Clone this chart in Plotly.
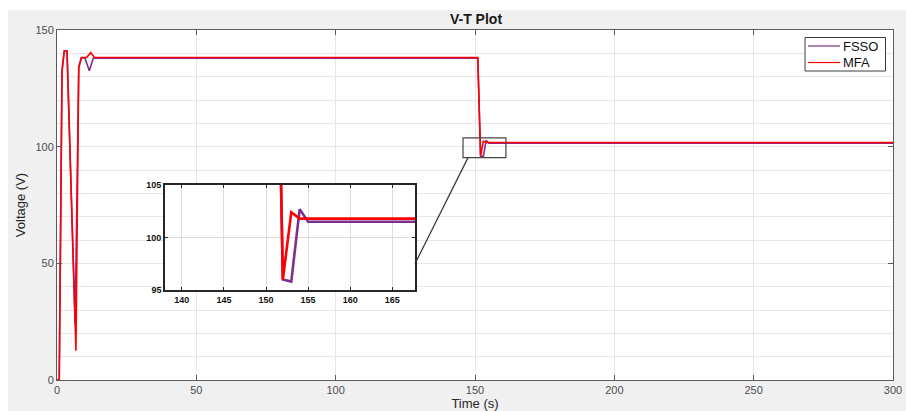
import plotly.graph_objects as go

# ---- data ----
t_fsso = [0, 0.8, 1.8, 2.6, 3.6, 6.5, 7.8, 8.8, 10.0, 11.6, 13.0, 151.0, 152.0, 153.0, 154.0, 155.0, 300]
v_fsso = [0, 0, 132.5, 141, 141, 24, 134, 138, 138, 132.5, 137.9, 137.9, 96.0, 95.8, 102.7, 101.5, 101.5]

t_mfa = [0, 0.8, 1.8, 2.6, 3.6, 6.8, 7.8, 8.7, 10.6, 12.1, 13.4, 151.0, 152.0, 153.0, 154.0, 300]
v_mfa = [0, 0, 132.5, 141, 141, 12.5, 134, 138.2, 138.2, 140.3, 138.2, 138.2, 96.0, 102.4, 101.8, 101.8]

series_names = ["FSSO", "MFA"]
colors = ["#7E2F8E", "#FF0000"]

main_xrange = [0, 300]
main_yrange = [0, 150]
inset_xrange = [138, 167.7]
inset_yrange = [95, 105]
inset_xticks = [140, 145, 150, 155, 160, 165]
inset_yticks = [95, 100, 105]
zoom_box_x = [145.7, 161.1]
zoom_box_y = [95.3, 103.8]

# ---- layout geometry ----
W, H = 906, 411
ML, MR, MT, MB = 57, 13, 30, 31
PW = W - ML - MR
PH = H - MT - MB

def px2paper_x(px):
    return (px - ML) / PW

def px2paper_y(py):
    return (H - MB - py) / PH

inset_dom_x = [px2paper_x(165), px2paper_x(415)]
inset_dom_y = [px2paper_y(290), px2paper_y(185)]

font_family = "Liberation Sans, Arial, sans-serif"

fig = go.Figure()
data = [(t_fsso, v_fsso), (t_mfa, v_mfa)]
for (t, v), name, c in zip(data, series_names, colors):
    fig.add_trace(go.Scatter(x=t, y=v, mode="lines", name=name, showlegend=False,
                             line=dict(color=c, width=1.6), xaxis="x", yaxis="y"))
for (t, v), name, c in zip(data, series_names, colors):
    fig.add_trace(go.Scatter(x=t, y=v, mode="lines", name=name, showlegend=False,
                             line=dict(color=c, width=2.6), xaxis="x2", yaxis="y2"))

grid_c = "#e6e6e6"
axis_c = "#5a5a5a"
tick_font = dict(family=font_family, size=11, color="#4d4d4d")

fig.update_layout(
    width=W, height=H,
    margin=dict(l=ML, r=MR, t=MT, b=MB, autoexpand=False),
    paper_bgcolor="#f0f0f0",
    plot_bgcolor="white",
    title=dict(text="<b>V-T Plot</b>", x=476 / W, xanchor="center",
               y=1 - 19 / H, yanchor="middle",
               font=dict(family=font_family, size=14, color="#1a1a1a")),
    xaxis=dict(range=main_xrange, dtick=50, tick0=0, showgrid=True, gridcolor=grid_c,
               showline=True, linecolor=axis_c, linewidth=1, mirror="ticks",
               ticks="inside", ticklen=5, tickcolor=axis_c, tickfont=tick_font,
               zeroline=False, automargin=False,
               title=dict(text="Time (s)", font=dict(family=font_family, size=13, color="#262626"),
                          standoff=2)),
    yaxis=dict(range=main_yrange, dtick=50, tick0=0, showgrid=True, gridcolor=grid_c,
               minor=dict(dtick=10, showgrid=True, gridcolor=grid_c, ticks=""),
               showline=True, linecolor=axis_c, linewidth=1, mirror="ticks",
               ticks="inside", ticklen=5, tickcolor=axis_c, tickfont=tick_font,
               zeroline=False, automargin=False,
               title=dict(text="Voltage (V)", font=dict(family=font_family, size=13, color="#262626"),
                          standoff=6)),
    xaxis2=dict(domain=inset_dom_x, anchor="y2", range=inset_xrange, tickvals=inset_xticks,
                showgrid=True, gridcolor="#dcdcdc", gridwidth=1,
                showline=True, linecolor="#262626", linewidth=1.6, mirror="ticks",
                ticks="inside", ticklen=3, tickcolor="#262626",
                tickfont=dict(family=font_family, size=9, color="#111", weight="bold"),
                zeroline=False, automargin=False),
    yaxis2=dict(domain=inset_dom_y, anchor="x2", range=inset_yrange, tickvals=inset_yticks,
                showgrid=True, gridcolor="#dcdcdc", gridwidth=1,
                showline=True, linecolor="#262626", linewidth=1.6, mirror="ticks",
                ticks="inside", ticklen=3, tickcolor="#262626",
                tickfont=dict(family=font_family, size=9, color="#111", weight="bold"),
                zeroline=False, automargin=False),
    showlegend=False,
)

# white inset background covering main grid
fig.add_shape(type="rect", xref="x2", yref="y2", x0=inset_xrange[0], x1=inset_xrange[1],
              y0=inset_yrange[0], y1=inset_yrange[1], fillcolor="white",
              line=dict(width=0), layer="below")

# zoom rectangle on main axes
fig.add_shape(type="rect", xref="x", yref="y", x0=zoom_box_x[0], x1=zoom_box_x[1],
              y0=zoom_box_y[0], y1=zoom_box_y[1], line=dict(color="#444", width=1.2),
              fillcolor="rgba(0,0,0,0)", layer="above")

# connector line
cx0 = (zoom_box_x[0] + 1.8 - main_xrange[0]) / (main_xrange[1] - main_xrange[0])
cy0 = (zoom_box_y[0] - main_yrange[0]) / (main_yrange[1] - main_yrange[0])
cx1 = inset_dom_x[1]
cy1 = inset_dom_y[0] + (97.5 - inset_yrange[0]) / (inset_yrange[1] - inset_yrange[0]) * (inset_dom_y[1] - inset_dom_y[0])
fig.add_shape(type="line", xref="paper", yref="paper", x0=cx0, y0=cy0, x1=cx1, y1=cy1,
              line=dict(color="#333", width=1.2), layer="above")

# legend (MATLAB-style compact box)
fig.add_shape(type="rect", xref="paper", yref="paper",
              x0=px2paper_x(805), x1=px2paper_x(885.5), y0=px2paper_y(71), y1=px2paper_y(37.5),
              fillcolor="white", line=dict(color="#3a3a3a", width=1), layer="above")
legend_rows_y = [46, 62.5]
for name, c, ry in zip(series_names, colors, legend_rows_y):
    fig.add_shape(type="line", xref="paper", yref="paper",
                  x0=px2paper_x(808), x1=px2paper_x(840), y0=px2paper_y(ry), y1=px2paper_y(ry),
                  line=dict(color=c, width=1.2), layer="above")
    fig.add_annotation(xref="paper", yref="paper", x=px2paper_x(840.5), y=px2paper_y(ry),
                       xanchor="left", yanchor="middle", text=name, showarrow=False,
                       font=dict(family=font_family, size=13, color="#111"))

# white strips at top/left of the figure
fig.add_shape(type="rect", xref="paper", yref="paper", x0=px2paper_x(-5), x1=px2paper_x(8),
              y0=px2paper_y(H + 5), y1=px2paper_y(-5), fillcolor="white", line=dict(width=0), layer="above")
fig.add_shape(type="rect", xref="paper", yref="paper", x0=px2paper_x(-5), x1=px2paper_x(W + 5),
              y0=px2paper_y(10), y1=px2paper_y(-5), fillcolor="white", line=dict(width=0), layer="above")

fig.write_html("out.html")
